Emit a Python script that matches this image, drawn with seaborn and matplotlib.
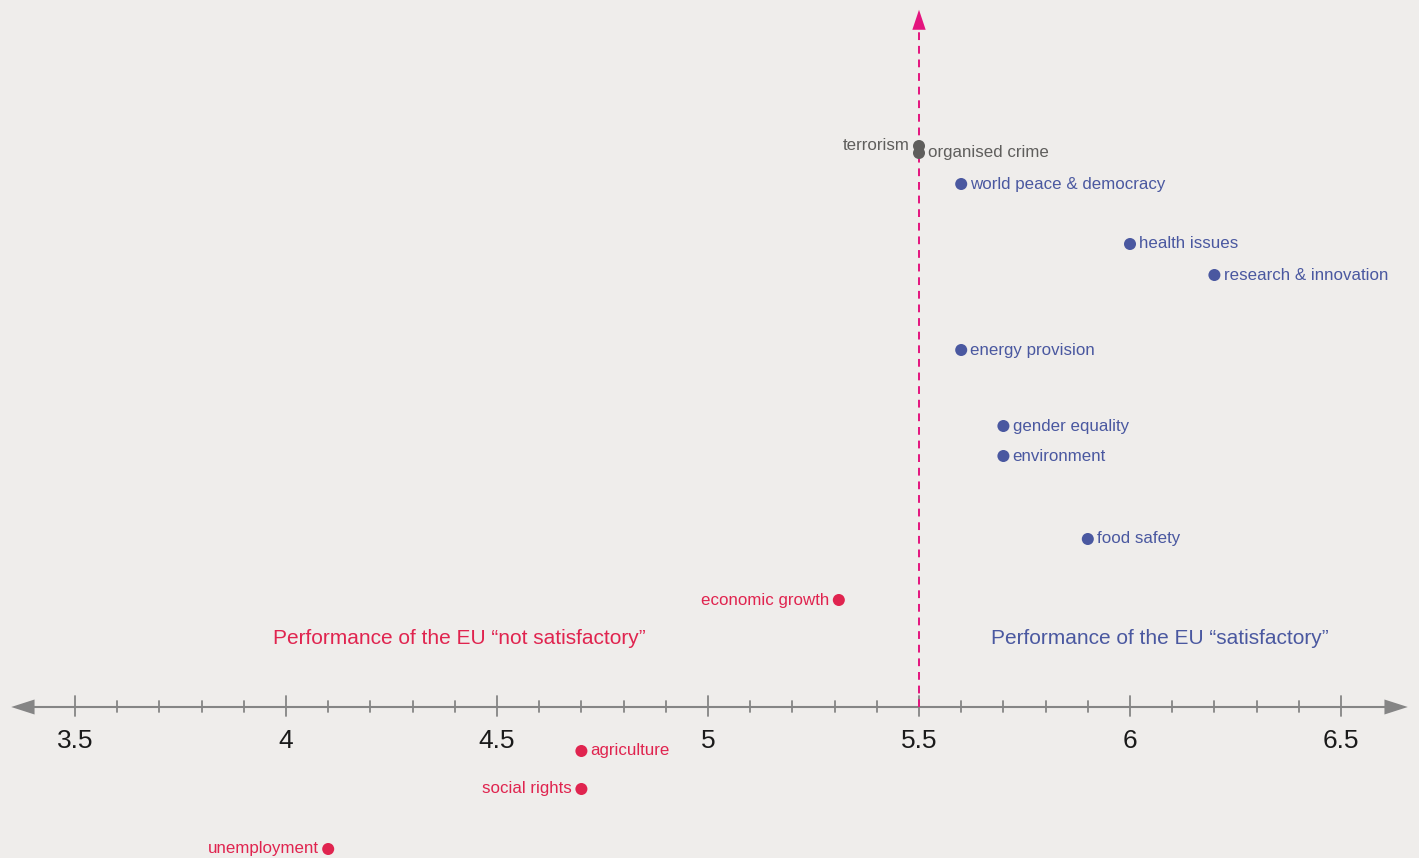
import pandas as pd
import seaborn as sns
import matplotlib.pyplot as plt
import numpy as np

# values (x = score, y = vertical placement only)
topics = ['terrorism', 'organised crime', 'world peace & democracy', 'health issues',
          'research & innovation', 'energy provision', 'gender equality', 'environment',
          'food safety', 'economic growth', 'agriculture', 'social rights', 'unemployment']
scores = [5.5, 5.5, 5.6, 6.0, 6.2, 5.6, 5.7, 5.7, 5.9, 5.31, 4.7, 4.7, 4.1]
heights = [5.61, 5.54, 5.23, 4.63, 4.32, 3.57, 2.81, 2.51, 1.68, 1.07, -0.44, -0.82, -1.42]
groups = ['neutral', 'neutral', 'good', 'good', 'good', 'good', 'good', 'good',
          'good', 'bad', 'bad', 'bad', 'bad']
sides = ['left', 'right', 'right', 'right', 'right', 'right', 'right', 'right',
         'right', 'left', 'right', 'left', 'left']
tick_vals = [3.5, 4, 4.5, 5, 5.5, 6, 6.5]

df = pd.DataFrame({'topic': topics, 'score': scores, 'y': heights,
                   'group': groups, 'side': sides})

colors = {'neutral': '#5f5e5c', 'good': '#4a58a0', 'bad': '#e0244f'}
bg = '#efedeb'
axis_col = '#858585'

sns.set_theme(style='white')
plt.rcParams['font.family'] = ['Liberation Sans', 'DejaVu Sans']

fig = plt.figure(figsize=(14.19, 8.58), dpi=100, facecolor=bg)
ax = fig.add_axes([0, 0, 1, 1], facecolor=bg)
x0, x1 = 3.3223, 6.6848
y0, y1 = -1.51, 7.07
ax.set_xlim(x0, x1)
ax.set_ylim(y0, y1)
ax.axis('off')

# horizontal axis with arrows both ends
ax.plot([x0 + 0.05, x1 - 0.05], [0, 0], color=axis_col, lw=1.5, zorder=1)
ax.annotate('', xy=(x0 + 0.02, 0), xytext=(x0 + 0.1, 0),
            arrowprops=dict(arrowstyle='-|>,head_width=0.45,head_length=1.4',
                            color=axis_col, lw=0))
ax.annotate('', xy=(x1 - 0.02, 0), xytext=(x1 - 0.1, 0),
            arrowprops=dict(arrowstyle='-|>,head_width=0.45,head_length=1.4',
                            color=axis_col, lw=0))
for t in np.round(np.arange(3.5, 6.51, 0.1), 1):
    major = abs(t * 2 - round(t * 2)) < 1e-6
    h = 0.11 if major else 0.06
    lo = -0.09 if major else -0.05
    ax.plot([t, t], [lo, h], color=axis_col, lw=1.3, zorder=1)
for t in tick_vals:
    ax.text(t, -0.34, f'{t:g}', ha='center', va='center', fontsize=19,
            color='#1a1a1a')

# dashed vertical line at 5.5 with arrow
ax.plot([5.5, 5.5], [0, 6.75], color='#e4147e', lw=1.4, ls=(0, (4, 3)), zorder=1)
ax.annotate('', xy=(5.5, 7.0), xytext=(5.5, 6.7),
            arrowprops=dict(arrowstyle='-|>,head_width=0.4,head_length=1.2',
                            color='#e4147e', lw=0))

sns.scatterplot(data=df, x='score', y='y', hue='group', palette=colors,
                s=75, edgecolor='none', legend=False, ax=ax, zorder=3)

for _, r in df.iterrows():
    if r['side'] == 'right':
        ax.text(r['score'] + 0.022, r['y'], r['topic'], ha='left', va='center',
                fontsize=12.2, color=colors[r['group']])
    else:
        ax.text(r['score'] - 0.022, r['y'], r['topic'], ha='right', va='center',
                fontsize=12.2, color=colors[r['group']])

ax.text(4.41, 0.68, 'Performance of the EU \u201cnot satisfactory\u201d', ha='center',
        va='center', fontsize=15, color=colors['bad'])
ax.text(6.07, 0.68, 'Performance of the EU \u201csatisfactory\u201d', ha='center',
        va='center', fontsize=15, color=colors['good'])

fig.savefig('out.png', dpi=100, facecolor=bg)
